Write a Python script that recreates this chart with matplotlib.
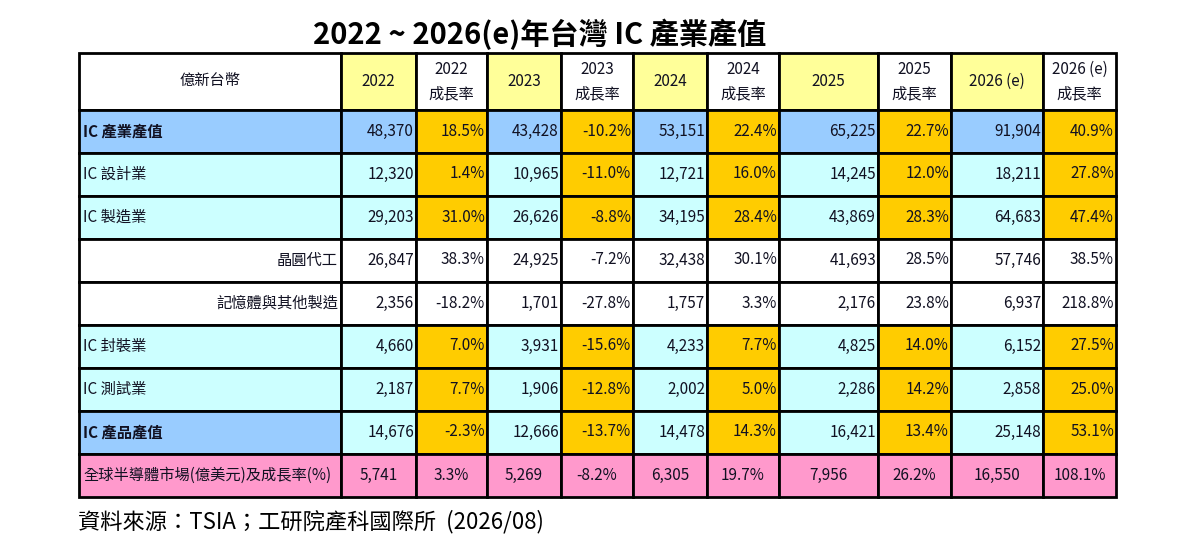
import matplotlib
matplotlib.use("Agg")
import matplotlib.pyplot as plt
from matplotlib.patches import Rectangle

plt.rcParams['font.family'] = ['Noto Sans CJK TC', 'DejaVu Sans']

title = "2022 ~ 2026(e)年台灣 IC 產業產值"
source = "資料來源：TSIA；工研院產科國際所  (2026/08)"
corner = "億新台幣"
years = ["2022", "2023", "2024", "2025", "2026 (e)"]
growth_suffix = "成長率"

row_labels = ["IC 產業產值", "IC 設計業", "IC 製造業", "晶圓代工", "記憶體與其他製造",
              "IC 封裝業", "IC 測試業", "IC 產品產值", "全球半導體市場(億美元)及成長率(%)"]
row_kind = ["total", "main", "main", "sub", "sub", "main", "main", "product", "global"]

values = [
    [48370, 43428, 53151, 65225, 91904],
    [12320, 10965, 12721, 14245, 18211],
    [29203, 26626, 34195, 43869, 64683],
    [26847, 24925, 32438, 41693, 57746],
    [2356, 1701, 1757, 2176, 6937],
    [4660, 3931, 4233, 4825, 6152],
    [2187, 1906, 2002, 2286, 2858],
    [14676, 12666, 14478, 16421, 25148],
    [5741, 5269, 6305, 7956, 16550],
]
growth = [
    [18.5, -10.2, 22.4, 22.7, 40.9],
    [1.4, -11.0, 16.0, 12.0, 27.8],
    [31.0, -8.8, 28.4, 28.3, 47.4],
    [38.3, -7.2, 30.1, 28.5, 38.5],
    [-18.2, -27.8, 3.3, 23.8, 218.8],
    [7.0, -15.6, 7.7, 14.0, 27.5],
    [7.7, -12.8, 5.0, 14.2, 25.0],
    [-2.3, -13.7, 14.3, 13.4, 53.1],
    [3.3, -8.2, 19.7, 26.2, 108.1],
]

# layout (pixels)
col_edges = [79, 341, 416, 487, 561, 633, 707, 779, 878, 951, 1043, 1116]
row_edges = [53, 110, 152.5, 195.5, 238.5, 281.5, 324.5, 367.5, 410.5, 453.5, 496.5]

BLUE = "#99CCFF"
CYAN = "#CCFFFF"
ORANGE = "#FFCC00"
YELLOW = "#FFFF99"
PINK = "#FF99CC"
WHITE = "#FFFFFF"
TXT = "#111122"

label_fill = {"total": BLUE, "main": CYAN, "sub": WHITE, "product": BLUE, "global": PINK}
value_fill = {"total": BLUE, "main": CYAN, "sub": WHITE, "product": CYAN, "global": PINK}
growth_fill = {"total": ORANGE, "main": ORANGE, "sub": WHITE, "product": ORANGE, "global": PINK}

fig = plt.figure(figsize=(12, 5.5), dpi=100)
ax = fig.add_axes([0, 0, 1, 1])
ax.set_xlim(0, 1200)
ax.set_ylim(550, 0)
ax.axis("off")

FS = 11
LW = 2.0

def cell(c, r, color):
    x0, x1 = col_edges[c], col_edges[c + 1]
    y0, y1 = row_edges[r], row_edges[r + 1]
    ax.add_patch(Rectangle((x0, y0), x1 - x0, y1 - y0, facecolor=color,
                           edgecolor="black", linewidth=LW, zorder=1))
    return x0, x1, (y0 + y1) / 2

# header
x0, x1, yc = cell(0, 0, WHITE)
ax.text((x0 + x1) / 2, yc - 1, corner, ha="center", va="center", fontsize=FS, color=TXT)
for i, y in enumerate(years):
    x0, x1, yc = cell(1 + 2 * i, 0, YELLOW)
    ax.text((x0 + x1) / 2, yc, y, ha="center", va="center", fontsize=FS, color=TXT)
    x0, x1, yc = cell(2 + 2 * i, 0, WHITE)
    ax.text((x0 + x1) / 2, yc - 12.5, y, ha="center", va="center", fontsize=FS, color=TXT)
    ax.text((x0 + x1) / 2, yc + 12.5, growth_suffix, ha="center", va="center", fontsize=FS, color=TXT)

# body
for r, (lab, kind) in enumerate(zip(row_labels, row_kind)):
    rr = r + 1
    x0, x1, yc = cell(0, rr, label_fill[kind])
    weight = "bold" if kind in ("total", "product") else "normal"
    if kind == "sub":
        ax.text(x1 - 3, yc, lab, ha="right", va="center", fontsize=FS, color=TXT)
    else:
        ax.text(x0 + 4, yc, lab, ha="left", va="center", fontsize=FS, color=TXT, fontweight=weight)
    for i in range(5):
        v = f"{values[r][i]:,}"
        g = f"{growth[r][i]:.1f}%"
        x0, x1, yc = cell(1 + 2 * i, rr, value_fill[kind])
        if kind == "global":
            ax.text((x0 + x1) / 2, yc, v, ha="center", va="center", fontsize=FS, color=TXT)
        else:
            ax.text(x1 - 2, yc, v, ha="right", va="center", fontsize=FS, color=TXT)
        x0, x1, yc = cell(2 + 2 * i, rr, growth_fill[kind])
        if kind == "global":
            ax.text((x0 + x1) / 2, yc, g, ha="center", va="center", fontsize=FS, color=TXT)
        else:
            ax.text(x1 - 2, yc, g, ha="right", va="center", fontsize=FS, color=TXT)

ax.text(540, 34, title, ha="center", va="center", fontsize=21, fontweight="bold", color="black")
ax.text(78, 522, source, ha="left", va="center", fontsize=16, color="black")

fig.savefig("out.png", dpi=100)
